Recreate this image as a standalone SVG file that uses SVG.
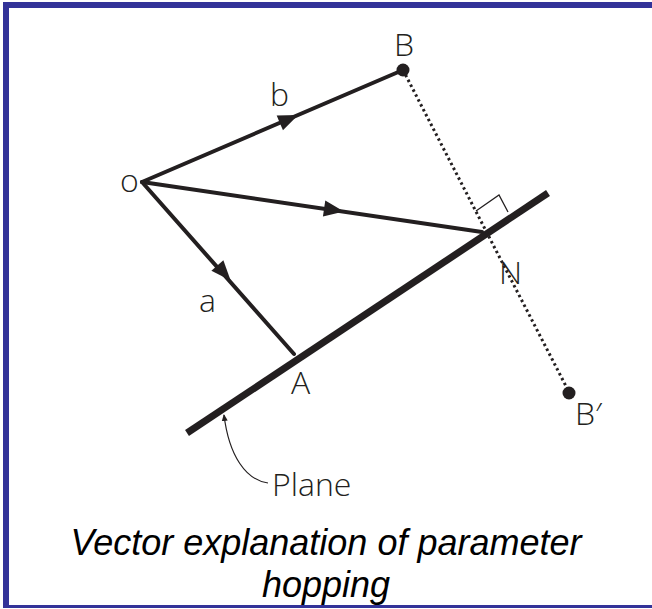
<svg xmlns="http://www.w3.org/2000/svg" width="652" height="609" viewBox="0 0 652 609">
<style>
.lbl{font-family:"Open Sans","Liberation Sans",sans-serif;font-size:32px;font-weight:300;fill:#231f20}
.cap{font-family:"Liberation Sans",Arial,sans-serif;font-size:36px;font-style:italic;fill:#000}
.vec{stroke:#231f20;stroke-width:4;fill:none;stroke-linecap:round}
.arr{fill:#231f20}
</style>
<defs>
<marker id="small" markerWidth="8" markerHeight="8" refX="6" refY="4" orient="auto" markerUnits="userSpaceOnUse">
<path d="M0,1 L7,4 L0,7 z" fill="#231f20"/>
</marker>
</defs>
<rect x="0" y="0" width="652" height="609" fill="#fff"/>
<g id="frame" fill="#333399">
<rect x="3" y="2" width="6" height="606"/>
<rect x="3" y="2" width="649" height="6"/>
<rect x="3" y="605" width="649" height="3"/>
</g>
<g id="plane">
<line x1="187" y1="433" x2="548" y2="193" stroke="#231f20" stroke-width="7"/>
</g>
<g id="connectors">
<line class="vec" x1="142" y1="182" x2="403" y2="70"/>
<line class="vec" x1="142" y1="182" x2="482" y2="232"/>
<line class="vec" x1="142" y1="182" x2="294" y2="354" stroke-width="3.5"/>
<line x1="403" y1="70" x2="569" y2="392" stroke="#231f20" stroke-width="3" stroke-dasharray="2.5,3"/>
<path d="M476,211 L499,195 L508,212" fill="none" stroke="#231f20" stroke-width="1.3"/>
<path d="M268,483 C246,480 229,456 224,415" fill="none" stroke="#231f20" stroke-width="1.2" marker-end="url(#small)"/>
<polygon class="arr" transform="translate(289,119) rotate(-23.2)" points="10,0 -10,-8 -10,8"/>
<polygon class="arr" transform="translate(334,210) rotate(8.4)" points="10,0 -10,-8 -10,8"/>
<polygon class="arr" transform="translate(224,273) rotate(48.5)" points="10,0 -10,-8 -10,8"/>
</g>
<g id="node-O"><text class="lbl" x="120" y="192">o</text></g>
<g id="node-B"><circle cx="403" cy="70" r="6.5" fill="#231f20"/><text class="lbl" x="394" y="56">B</text></g>
<g id="node-Bp"><circle cx="569" cy="393" r="6.5" fill="#231f20"/><text class="lbl" x="575" y="425">B′</text></g>
<g id="node-N"><text class="lbl" x="499" y="284">N</text></g>
<g id="node-A"><text class="lbl" x="291" y="394">A</text></g>
<g id="label-b"><text class="lbl" x="270" y="106">b</text></g>
<g id="label-a"><text class="lbl" x="199" y="312">a</text></g>
<g id="label-plane"><text class="lbl" x="272" y="496">Plane</text></g>
<g id="caption">
<text class="cap" x="326" y="555" text-anchor="middle">Vector explanation of parameter</text>
<text class="cap" x="326" y="597" text-anchor="middle">hopping</text>
</g>
</svg>
